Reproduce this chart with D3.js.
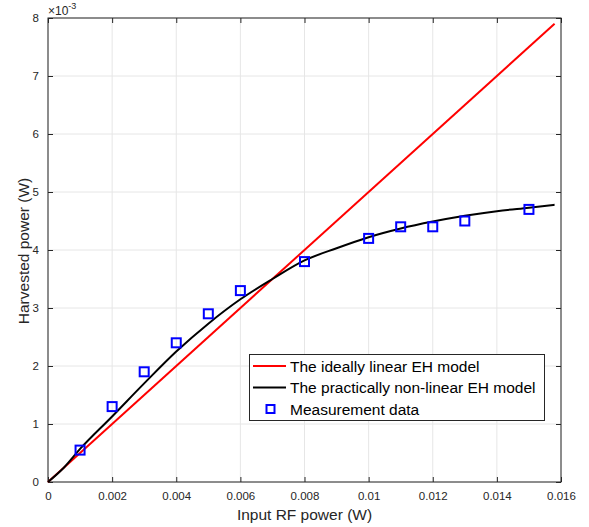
<!DOCTYPE html>
<html><head><meta charset="utf-8">
<script src="https://cdn.jsdelivr.net/npm/d3@7"></script>
<style>body{margin:0;background:#fff;} text{font-family:"Liberation Sans",Arial,sans-serif;}</style>
</head><body><svg id="c" width="589" height="527"></svg>
<script>
const xTicks = [0,0.002,0.004,0.006,0.008,0.01,0.012,0.014,0.016];
const xTickLabels = ["0","0.002","0.004","0.006","0.008","0.01","0.012","0.014","0.016"];
const yTicks = [0,1,2,3,4,5,6,7,8];
const yTickLabels = ["0","1","2","3","4","5","6","7","8"];
// ideal linear model (mW)
const linearX = [0, 0.0158];
const linearY = [0, 7.9];
// practical non-linear model (mW)
const curveX = [0,0.0005,0.001,0.002,0.003,0.004,0.005,0.006,0.007,0.008,0.009,0.010,0.011,0.012,0.013,0.014,0.015,0.0158];
const curveY = [0,0.25,0.57,1.13,1.70,2.25,2.73,3.15,3.50,3.82,4.03,4.22,4.37,4.49,4.59,4.67,4.73,4.78];
// measurement data (mW)
const measX = [0.001,0.002,0.003,0.004,0.005,0.006,0.008,0.010,0.011,0.012,0.013,0.015];
const measY = [0.55,1.3,1.9,2.4,2.9,3.3,3.8,4.2,4.4,4.4,4.5,4.7];
const legendLabels = ["The ideally linear EH model","The practically non-linear EH model","Measurement data"];

const L=48, R=561, T=18, B=482;
const x = d3.scaleLinear().domain([0,0.016]).range([L,R]);
const y = d3.scaleLinear().domain([0,8]).range([B,T]);
const svg = d3.select("#c");
const axc = "#262626";

// grid
svg.append("g").selectAll("line").data(xTicks).join("line")
 .attr("x1",d=>x(d)).attr("x2",d=>x(d)).attr("y1",T).attr("y2",B)
 .attr("stroke","#e6e6e6").attr("stroke-width",1);
svg.append("g").selectAll("line").data(yTicks).join("line")
 .attr("y1",d=>y(d)).attr("y2",d=>y(d)).attr("x1",L).attr("x2",R)
 .attr("stroke","#e6e6e6").attr("stroke-width",1);

const tl = 5;
function ax(gen, tr){
  const g = svg.append("g").attr("transform",tr).call(gen);
  g.select(".domain").remove();
  g.selectAll("line").attr("stroke",axc);
  g.selectAll("text").attr("fill",axc).style("font-size","11.5px");
  return g;
}
ax(d3.axisBottom(x).tickValues(xTicks).tickFormat((d,i)=>xTickLabels[i]).tickSizeInner(-tl).tickSizeOuter(0).tickPadding(10),`translate(0,${B})`);
ax(d3.axisTop(x).tickValues(xTicks).tickFormat("").tickSizeInner(-tl).tickSizeOuter(0),`translate(0,${T})`);
ax(d3.axisLeft(y).tickValues(yTicks).tickFormat((d,i)=>yTickLabels[i]).tickSizeInner(-tl).tickSizeOuter(0).tickPadding(9),`translate(${L},0)`);
ax(d3.axisRight(y).tickValues(yTicks).tickFormat("").tickSizeInner(-tl).tickSizeOuter(0),`translate(${R},0)`);
svg.append("rect").attr("x",L).attr("y",T).attr("width",R-L).attr("height",B-T)
 .attr("fill","none").attr("stroke",axc).attr("stroke-width",1);

// lines
const line = d3.line().x(d=>x(d[0])).y(d=>y(d[1]));
svg.append("path").datum(linearX.map((v,i)=>[v,linearY[i]])).attr("d",line)
 .attr("fill","none").attr("stroke","#ff0000").attr("stroke-width",2);
svg.append("path").datum(curveX.map((v,i)=>[v,curveY[i]])).attr("d",line.curve(d3.curveMonotoneX))
 .attr("fill","none").attr("stroke","#000").attr("stroke-width",2);
const s=9;
svg.append("g").selectAll("rect").data(measX.map((v,i)=>[v,measY[i]])).join("rect")
 .attr("x",d=>x(d[0])-s/2).attr("y",d=>y(d[1])-s/2).attr("width",s).attr("height",s)
 .attr("fill","none").attr("stroke","#0000ff").attr("stroke-width",2);

// exponent
const ex = svg.append("text").attr("x",48).attr("y",15).attr("fill",axc).style("font-size","12px");
ex.append("tspan").text("×10");
ex.append("tspan").attr("dy",-6).style("font-size","9px").text("-3");

// axis labels
svg.append("text").attr("x",(L+R)/2).attr("y",520).attr("text-anchor","middle").attr("fill",axc)
 .style("font-size","15.5px").text("Input RF power (W)");
svg.append("text").attr("transform",`translate(29,${(T+B)/2+1}) rotate(-90)`).attr("text-anchor","middle").attr("fill",axc)
 .style("font-size","15.5px").text("Harvested power (W)");

// legend
const lg = svg.append("g");
lg.append("rect").attr("x",249.5).attr("y",354.5).attr("width",295).attr("height",66)
 .attr("fill","#fff").attr("stroke",axc).attr("stroke-width",1);
const ly=[366,387.5,409];
lg.append("line").attr("x1",253).attr("x2",286).attr("y1",ly[0]).attr("y2",ly[0]).attr("stroke","#ff0000").attr("stroke-width",2);
lg.append("line").attr("x1",253).attr("x2",286).attr("y1",ly[1]).attr("y2",ly[1]).attr("stroke","#000").attr("stroke-width",2);
lg.append("rect").attr("x",270.5-4).attr("y",ly[2]-4).attr("width",8).attr("height",8).attr("fill","none").attr("stroke","#0000ff").attr("stroke-width",2);
lg.selectAll("text.l").data(legendLabels).join("text").attr("class","l")
 .attr("x",290).attr("y",(d,i)=>ly[i]+5.5).attr("fill","#000").style("font-size","15.5px").text(d=>d);
</script></body></html>
